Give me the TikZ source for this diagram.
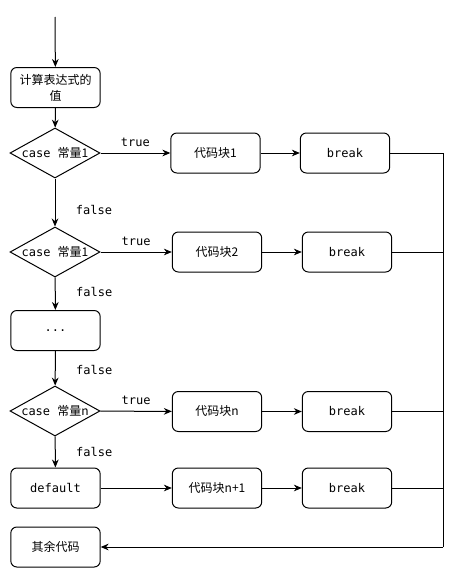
\documentclass[tikz,border=0pt]{standalone}
\usepackage{fontspec}
\setmonofont{DejaVu Sans Mono}
\newfontfamily\cjk{Noto Sans CJK SC}
\usetikzlibrary{shapes.geometric,arrows.meta}
\newcommand{\zh}[1]{{\cjk #1}}
\begin{document}
\begin{tikzpicture}[x=0.75pt,y=-0.75pt,line width=0.75pt,
        every node/.style={font=\ttfamily\fontsize{9}{12}\selectfont},
        blk/.style={draw,rounded corners=4.5pt,minimum width=67pt,minimum height=30pt,inner sep=1pt,align=center},
        cond/.style={draw,diamond,minimum width=67.5pt,minimum height=37.5pt,inner sep=0pt},
        flow/.style={-{Stealth[length=6pt,width=5pt]}}]
    \useasboundingbox (0,0) rectangle (461,578);
    % left column
    \coordinate (start) at (55,17);
    \node[blk] (calc) at (55.5,87.5) {\zh{计算表达式的}\\\zh{值}};
    \node[cond] (c1) at (55,153) {\makebox[0pt]{case \zh{常量1}}};
    \node[cond] (c2) at (55,252) {\makebox[0pt]{case \zh{常量1}}};
    \node[blk] (dots) at (55.5,330.5) {...};
    \node[cond] (cn) at (55,411) {\makebox[0pt]{case \zh{常量n}}};
    \node[blk] (dflt) at (55.5,488) {default};
    \node[blk] (rest) at (55.5,547) {\zh{其余代码}};
    % code blocks
    \node[blk] (b1) at (215.5,153) {\zh{代码块1}};
    \node[blk] (b2) at (217,252) {\zh{代码块2}};
    \node[blk] (bn) at (217,411.5) {\zh{代码块n}};
    \node[blk] (bn1) at (217,488) {\zh{代码块n+1}};
    % breaks
    \node[blk] (k1) at (345,153) {break};
    \node[blk] (k2) at (347,252) {break};
    \node[blk] (kn) at (347,411.5) {break};
    \node[blk] (kn1) at (347,488) {break};
    \coordinate (railtop) at (443,153);
    \coordinate (railbot) at (443,547);
    % flow
    \draw[flow] (start) -- (calc);
    \draw[flow] (calc) -- (c1);
    \draw[flow] (c1) -- node[right=12pt,pos=0.65] {false} (c2);
    \draw[flow] (c2) -- node[right=12pt,pos=0.45] {false} (dots);
    \draw[flow] (dots) -- node[right=12pt,pos=0.55] {false} (cn);
    \draw[flow] (cn) -- node[right=12pt,pos=0.5] {false} (dflt);
    \draw[flow] (c1) -- node[above=1pt] {true} (b1);
    \draw[flow] (c2) -- node[above=1pt] {true} (b2);
    \draw[flow] (cn) -- node[above=1pt] {true} (bn);
    \draw[flow] (dflt) -- (bn1);
    \draw[flow] (b1) -- (k1);
    \draw[flow] (b2) -- (k2);
    \draw[flow] (bn) -- (kn);
    \draw[flow] (bn1) -- (kn1);
    % back to the rest
    \draw (k1.east) -- (railtop) -- (railbot);
    \draw (k2.east) -- (k2.east -| railtop);
    \draw (kn.east) -- (kn.east -| railtop);
    \draw (kn1.east) -- (kn1.east -| railtop);
    \draw[flow] (railbot) -- (rest);
\end{tikzpicture}
\end{document}
